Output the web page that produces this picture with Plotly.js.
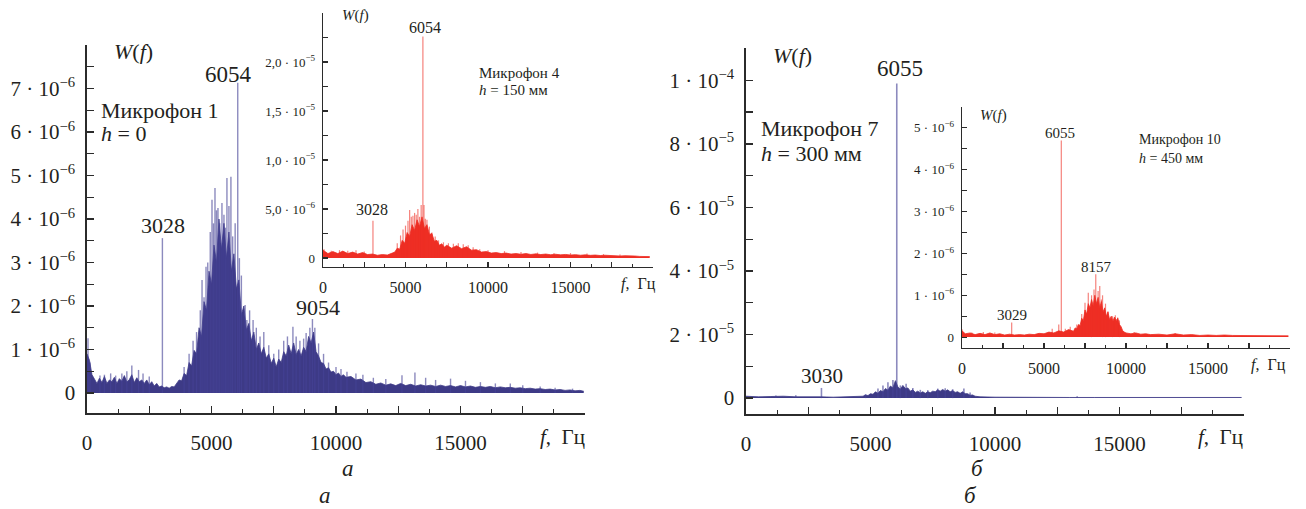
<!DOCTYPE html>
<html>
<head>
<meta charset="utf-8">
<script src="https://cdn.plot.ly/plotly-3.0.1.min.js"></script>
<style>html,body{margin:0;padding:0;background:#fff;}#chart{width:1306px;height:509px;}</style>
</head>
<body>
<div id="chart"></div>
<script>
// ---------- DATA ----------
// Panel a, main (Микрофон 1, h = 0), W in units of 1e-6
const aFreq = [0,100,200,300,400,500,600,700,800,900,1000,1100,1200,1300,1400,1500,1600,1700,1800,1900,2000,2100,2200,2300,2400,2500,2600,2700,2800,2900,3000,3100,3200,3300,3400,3500,3600,3700,3800,3900,4000,4100,4200,4300,4400,4500,4600,4700,4800,4900,5000,5100,5200,5300,5400,5500,5600,5700,5800,5900,6000,6100,6200,6300,6400,6500,6600,6700,6800,6900,7000,7100,7200,7300,7400,7500,7600,7700,7800,7900,8000,8100,8200,8300,8400,8500,8600,8700,8800,8900,9000,9100,9200,9300,9400,9500,9600,9700,9800,9900,10000,10100,10200,10300,10400,10600,10800,11000,11200,11400,11600,11800,12000,12200,12400,12600,12800,13000,13200,13400,13600,13800,14000,14200,14400,14600,14800,15000,15200,15400,15600,15800,16000,16200,16400,16600,16800,17000,17200,17400,17600,17800,18000,18200,18400,18600,18800,19000,19200,19400,19600,19800,19950];
const aBody = [0.9,0.75,0.42,0.3,0.22,0.34,0.24,0.38,0.22,0.3,0.26,0.36,0.22,0.33,0.27,0.4,0.25,0.31,0.42,0.24,0.35,0.26,0.3,0.22,0.3,0.19,0.26,0.16,0.22,0.14,0.16,0.12,0.14,0.11,0.15,0.14,0.22,0.3,0.28,0.45,0.4,0.7,0.62,0.98,0.9,1.5,1.3,2.1,1.9,2.8,2.5,3.4,3.0,4.0,3.3,3.9,3.1,3.7,2.8,3.2,2.4,2.6,1.8,2.0,1.45,1.6,1.2,1.4,1.0,1.15,0.9,1.05,0.8,0.9,0.68,0.8,0.6,0.78,0.7,0.95,0.85,1.1,0.9,1.15,0.88,1.0,0.85,1.05,0.95,1.3,1.15,1.4,0.95,0.85,0.7,0.68,0.55,0.58,0.48,0.5,0.42,0.46,0.38,0.42,0.36,0.38,0.3,0.32,0.24,0.26,0.2,0.23,0.18,0.21,0.17,0.22,0.17,0.2,0.16,0.19,0.16,0.18,0.15,0.18,0.15,0.17,0.14,0.17,0.14,0.16,0.13,0.15,0.13,0.15,0.12,0.14,0.12,0.13,0.11,0.12,0.1,0.11,0.09,0.1,0.08,0.09,0.07,0.08,0.06,0.07,0.05,0.06,0.04];
const aSpikeFreq = [40,120,520,700,950,1150,1400,1600,1800,2070,2250,2500,3028,3900,4100,4260,4400,4550,4620,4700,4780,4850,4950,5020,5080,5140,5200,5260,5330,5420,5500,5560,5620,5700,5780,5850,5950,6054,6120,6200,6350,6420,6530,6670,6800,6950,7100,7300,7500,7700,7900,8050,8270,8400,8550,8700,8800,8950,9054,9150,9300,9500,9700,10000,10200,10440,10800,11080,11500,12000,12650,13170,13600,14000,14600,15200,15800,16400,17000,17500,18200,18800,19500];
const aSpikeVal = [1.26,0.7,0.4,0.42,0.45,0.4,0.45,0.5,0.63,0.53,0.45,0.38,3.56,0.6,0.9,1.2,1.4,1.9,2.6,2.2,2.9,3.0,3.7,4.44,3.9,4.71,4.2,4.25,3.9,4.37,4.1,3.8,4.94,4.3,4.97,3.6,3.9,7.13,3.1,2.7,2.02,1.68,1.9,1.68,1.5,1.3,1.4,1.1,0.9,1.0,1.2,1.3,1.52,1.3,1.2,1.25,1.38,1.5,1.7,1.5,1.14,0.9,0.7,0.6,0.55,0.49,0.45,0.42,0.35,0.32,0.41,0.47,0.35,0.3,0.33,0.28,0.25,0.22,0.22,0.18,0.15,0.12,0.1];

// Panel a, inset (Микрофон 4, h = 150 мм), units of 1e-6
const a4Freq = [0,300,600,900,1200,1500,1800,2100,2400,2700,3000,3300,3600,3900,4200,4350,4500,4650,4800,4950,5100,5250,5400,5550,5700,5850,6000,6150,6300,6450,6600,6750,6900,7050,7200,7350,7500,7800,8100,8400,8700,9000,9300,9600,9900,10200,10500,10800,11100,11400,11700,12000,12300,12600,12900,13200,13500,13800,14100,14400,14700,15000,15300,15600,15900,16200,16500,16800,17100,17400,17700,18000,18300,18600,18900,19200,19500,19800];
const a4Body = [0.8,0.45,0.65,0.45,0.7,0.45,0.6,0.4,0.55,0.35,0.4,0.28,0.35,0.3,0.5,0.6,1.0,0.9,1.8,1.5,2.6,2.2,3.4,2.8,3.9,3.2,4.2,3.0,3.4,2.4,2.5,1.7,1.8,1.3,1.45,1.1,1.3,1.0,1.25,0.95,1.15,0.8,0.85,0.6,0.65,0.5,0.55,0.45,0.5,0.4,0.45,0.38,0.45,0.36,0.42,0.35,0.4,0.33,0.38,0.32,0.36,0.3,0.34,0.28,0.32,0.27,0.3,0.25,0.28,0.23,0.25,0.2,0.23,0.18,0.2,0.16,0.18,0.14];
const a4SpikeFreq = [60,500,1000,1500,2000,2500,3028,4500,4700,4850,5000,5150,5250,5350,5450,5550,5650,5750,5850,5950,6054,6120,6200,6300,6450,6600,6800,7000,7300,7600,7900,8200,8500,8800,9100,9500,10000,11000,12000,13000,14000,15000,16000,17000,18000];
const a4SpikeVal = [0.9,0.75,0.8,0.75,0.8,0.65,3.8,1.5,2.3,2.9,3.3,3.8,4.9,4.2,4.3,4.6,4.4,5.0,4.2,5.4,22.6,5.4,4.0,3.9,3.2,2.6,2.2,1.8,1.6,1.5,1.45,1.5,1.4,1.3,1.1,0.9,0.8,0.7,0.6,0.55,0.5,0.5,0.45,0.4,0.35];

// Panel б, main (Микрофон 7, h = 300 мм), units of 1e-5
const b7Freq = [0,500,1000,1500,2000,2500,3000,3500,4000,4500,4700,4800,4900,5000,5100,5200,5300,5400,5500,5600,5700,5800,5900,6000,6100,6200,6300,6400,6500,6600,6700,6800,6900,7000,7100,7200,7300,7400,7500,7600,7700,7800,7900,8000,8100,8200,8300,8400,8500,8600,8700,8800,8900,9000,9100,9200,9300,9400,10000,11000,12000,13000,14000,16000,18000,19900];
const b7Body = [0.06,0.04,0.05,0.06,0.04,0.05,0.04,0.03,0.04,0.05,0.06,0.1,0.08,0.14,0.12,0.2,0.15,0.24,0.2,0.3,0.25,0.38,0.32,0.55,0.35,0.28,0.4,0.3,0.32,0.22,0.26,0.18,0.22,0.16,0.2,0.15,0.2,0.17,0.22,0.2,0.26,0.22,0.27,0.22,0.26,0.2,0.24,0.18,0.2,0.15,0.2,0.14,0.14,0.09,0.1,0.06,0.06,0.04,0.03,0.02,0.03,0.02,0.02,0.02,0.02,0.02];
const b7SpikeFreq = [1200,2000,3030,4800,5300,5500,5700,5900,6055,6200,6430,6700,7000,7300,7700,8000,8300,8750,9000,13300];
const b7SpikeVal = [0.08,0.09,0.32,0.12,0.3,0.4,0.5,0.57,9.9,0.4,0.45,0.32,0.26,0.25,0.3,0.31,0.28,0.3,0.18,0.06];

// Panel б, inset (Микрофон 10, h = 450 мм), units of 1e-6
const b10Freq = [0,200,500,800,1100,1400,1700,2000,2300,2600,2900,3200,3500,3800,4100,4400,4700,5000,5300,5600,5900,6200,6500,6800,6900,7000,7100,7200,7300,7400,7500,7600,7700,7800,7900,8000,8100,8200,8300,8400,8500,8600,8700,8800,8900,9000,9100,9200,9300,9400,9500,9600,9700,9800,9900,10000,10300,10600,10900,11200,11500,12000,12500,13000,13500,14000,14500,15000,15500,16000,16500,17000,17500,18000,18500,19000,19500,19900];
const b10Body = [0.15,0.08,0.1,0.06,0.09,0.06,0.1,0.06,0.08,0.05,0.07,0.05,0.06,0.05,0.07,0.06,0.09,0.08,0.12,0.1,0.15,0.12,0.18,0.14,0.22,0.2,0.3,0.28,0.45,0.4,0.65,0.55,0.8,0.7,0.9,0.75,1.0,0.8,0.95,0.7,0.85,0.6,0.7,0.5,0.6,0.42,0.5,0.38,0.48,0.4,0.45,0.3,0.25,0.15,0.12,0.1,0.08,0.1,0.07,0.08,0.06,0.07,0.05,0.08,0.05,0.06,0.04,0.05,0.04,0.05,0.04,0.04,0.03,0.04,0.03,0.03,0.03,0.03];
const b10SpikeFreq = [0,600,1300,2000,3029,5500,5900,6055,6300,6600,7000,7300,7500,7700,7900,8050,8157,8300,8400,8500,8570,8750,8900,9180,9350,9490,9600,10500,13000];
const b10SpikeVal = [0.19,0.11,0.12,0.11,0.35,0.2,0.3,4.7,0.2,0.25,0.3,0.55,0.82,1.06,1.0,1.14,1.5,1.1,1.22,0.9,1.0,0.8,0.62,0.5,0.52,0.47,0.4,0.12,0.09];

// Tick labels
const freqTickVals = [0,2500,5000,7500,10000,12500,15000,17500,20000];
const freqTickText = ['0','','5000','','10000','','15000','',''];
const aTickVals = [0,0.5,1,1.5,2,2.5,3,3.5,4,4.5,5,5.5,6,6.5,7,7.5,8];
const aTickText = ['0','','1 · 10<sup>−6</sup>','','2 · 10<sup>−6</sup>','','3 · 10<sup>−6</sup>','','4 · 10<sup>−6</sup>','','5 · 10<sup>−6</sup>','','6 · 10<sup>−6</sup>','','7 · 10<sup>−6</sup>','',''];
const a4TickVals = [0,2.5,5,7.5,10,12.5,15,17.5,20,22.5,25];
const a4TickText = ['0','','5,0 · 10<sup>−6</sup>','','1,0 · 10<sup>−5</sup>','','1,5 · 10<sup>−5</sup>','','2,0 · 10<sup>−5</sup>','',''];
const b7TickVals = [0,1,2,3,4,5,6,7,8,9,10,11];
const b7TickText = ['0','','2 · 10<sup>−5</sup>','','4 · 10<sup>−5</sup>','','6 · 10<sup>−5</sup>','','8 · 10<sup>−5</sup>','','1 · 10<sup>−4</sup>',''];
const b10TickVals = [0,0.5,1,1.5,2,2.5,3,3.5,4,4.5,5,5.5];
const b10TickText = ['0','','1 · 10<sup>−6</sup>','','2 · 10<sup>−6</sup>','','3 · 10<sup>−6</sup>','','4 · 10<sup>−6</sup>','','5 · 10<sup>−6</sup>',''];

// ---------- STYLE ----------
const W = 1306, H = 509;
const X = px => px / W;
const Y = py => (H - py) / H;
const FONT = '"Liberation Serif", "DejaVu Serif", serif';
const INK = '#231f20';
const BLUE = '#3d3a86';
const BLUE_SPIKE = 'rgba(70,66,150,0.62)';
const RED = '#ee2e24';
const RED_SPIKE = 'rgba(238,46,36,0.6)';

function spikes(fr, v) {
  const xs = [], ys = [];
  for (let i = 0; i < fr.length; i++) { xs.push(fr[i], fr[i], null); ys.push(0, v[i], null); }
  return {xs, ys};
}
function bodyTrace(fr, v, color, xa, ya) {
  return {x: fr, y: v, type: 'scatter', mode: 'lines', xaxis: xa, yaxis: ya,
    line: {color: color, width: 0.8}, fill: 'tozeroy', fillcolor: color, hoverinfo: 'skip', showlegend: false};
}
function spikeTrace(fr, v, color, w, xa, ya) {
  const s = spikes(fr, v);
  return {x: s.xs, y: s.ys, type: 'scatter', mode: 'lines', xaxis: xa, yaxis: ya,
    line: {color: color, width: w}, connectgaps: false, hoverinfo: 'skip', showlegend: false};
}

const traces = [
  bodyTrace(aFreq, aBody, BLUE, 'x', 'y'),
  spikeTrace(aSpikeFreq, aSpikeVal, BLUE_SPIKE, 1.4, 'x', 'y'),
  bodyTrace(a4Freq, a4Body, RED, 'x2', 'y2'),
  spikeTrace(a4SpikeFreq, a4SpikeVal, RED_SPIKE, 1.2, 'x2', 'y2'),
  bodyTrace(b7Freq, b7Body, BLUE, 'x3', 'y3'),
  spikeTrace(b7SpikeFreq, b7SpikeVal, BLUE_SPIKE, 1.6, 'x3', 'y3'),
  bodyTrace(b10Freq, b10Body, RED, 'x4', 'y4'),
  spikeTrace(b10SpikeFreq, b10SpikeVal, RED_SPIKE, 1.2, 'x4', 'y4')
];

function xAxis(domain, anchor, big) {
  return {domain: domain, anchor: anchor, range: [0, 20000], showgrid: false, zeroline: false,
    showline: true, linecolor: '#2b2b2b', linewidth: big ? 1.6 : 1.3,
    tickmode: 'array', tickvals: freqTickVals, ticktext: freqTickText,
    ticks: 'inside', ticklen: big ? 7 : 5, tickwidth: big ? 1.4 : 1.1, tickcolor: '#2b2b2b',
    minor: {dtick: 1250, tick0: 0, ticks: 'inside', ticklen: big ? 4 : 3, tickwidth: big ? 1.2 : 1, tickcolor: '#2b2b2b', showgrid: false},
    tickfont: {family: FONT, size: big ? 21 : 16, color: INK}, ticklabelstandoff: big ? 10 : 5, fixedrange: true};
}
function yAxis(domain, anchor, range, vals, text, big) {
  return {domain: domain, anchor: anchor, range: range, showgrid: false, zeroline: false,
    showline: true, linecolor: '#2b2b2b', linewidth: big ? 1.6 : 1.3,
    tickmode: 'array', tickvals: vals, ticktext: text,
    ticks: 'inside', ticklen: big ? 7 : 5, tickwidth: big ? 1.4 : 1.1, tickcolor: '#2b2b2b',
    tickfont: {family: FONT, size: big ? 21 : 13, color: INK}, ticklabelstandoff: big ? 6 : 4, fixedrange: true};
}

function ann(text, px, py, size, anchor, italic) {
  return {text: italic ? '<i>' + text + '</i>' : text, x: X(px), y: Y(py), xref: 'paper', yref: 'paper',
    xanchor: anchor || 'center', yanchor: 'middle', showarrow: false,
    font: {family: FONT, size: size, color: INK}};
}

const annotations = [
  // panel a main
  ann('<i>W</i>(<i>f</i>)', 133, 52, 22),
  ann('6054', 228, 75, 23),
  ann('Микрофон 1', 99, 110, 22, 'left'),
  ann('<i>h</i> = 0', 99, 133, 22, 'left'),
  ann('3028', 163, 225, 22),
  ann('9054', 318, 308, 22),
  ann('<i>f</i>,  Гц', 562, 437, 21),
  ann('а', 348, 468, 23, 'center', true),
  ann('а', 325, 495, 23, 'center', true),
  // panel a inset
  ann('<i>W</i>(<i>f</i>)', 355, 16, 15),
  ann('6054', 425, 28, 16),
  ann('3028', 372, 210, 16),
  ann('Микрофон 4', 477, 73, 15, 'left'),
  ann('<i>h</i> = 150 мм', 477, 90, 15, 'left'),
  ann('<i>f</i>,  Гц', 638, 284, 16),
  // panel б main
  ann('<i>W</i>(<i>f</i>)', 792, 55, 22),
  ann('6055', 900, 68, 23),
  ann('Микрофон 7', 759, 128, 22, 'left'),
  ann('<i>h</i> = 300 мм', 759, 153, 22, 'left'),
  ann('3030', 822, 376, 21),
  ann('<i>f</i>,  Гц', 1220, 437, 21),
  ann('б', 977, 468, 23, 'center', true),
  ann('б', 970, 495, 23, 'center', true),
  // panel б inset
  ann('<i>W</i>(<i>f</i>)', 993, 115, 15),
  ann('6055', 1060, 133, 15),
  ann('8157', 1096, 267, 15),
  ann('3029', 1012, 315, 15),
  ann('Микрофон 10', 1137, 140, 14, 'left'),
  ann('<i>h</i> = 450 мм', 1137, 158, 14, 'left'),
  ann('<i>f</i>,  Гц', 1268, 365, 16)
];

const layout = {
  width: W, height: H, margin: {l: 0, r: 0, t: 0, b: 0},
  paper_bgcolor: '#ffffff', plot_bgcolor: 'rgba(0,0,0,0)', showlegend: false,
  font: {family: FONT, color: INK},
  xaxis: xAxis([X(87), X(585)], 'y', true),
  yaxis: yAxis([Y(413), Y(45)], 'x', [-0.46, 8.0], aTickVals, aTickText, true),
  xaxis2: xAxis([X(323), X(653)], 'y2', false),
  yaxis2: yAxis([Y(267), Y(13)], 'x2', [-0.92, 25], a4TickVals, a4TickText, false),
  xaxis3: xAxis([X(746), X(1244)], 'y3', true),
  yaxis3: yAxis([Y(414), Y(48)], 'x3', [-0.5, 11.02], b7TickVals, b7TickText, true),
  xaxis4: xAxis([X(962), X(1290)], 'y4', false),
  yaxis4: yAxis([Y(348), Y(107)], 'x4', [-0.26, 5.5], b10TickVals, b10TickText, false),
  annotations: annotations
};

Plotly.newPlot('chart', traces, layout, {staticPlot: true, displayModeBar: false});
</script>
</body>
</html>
